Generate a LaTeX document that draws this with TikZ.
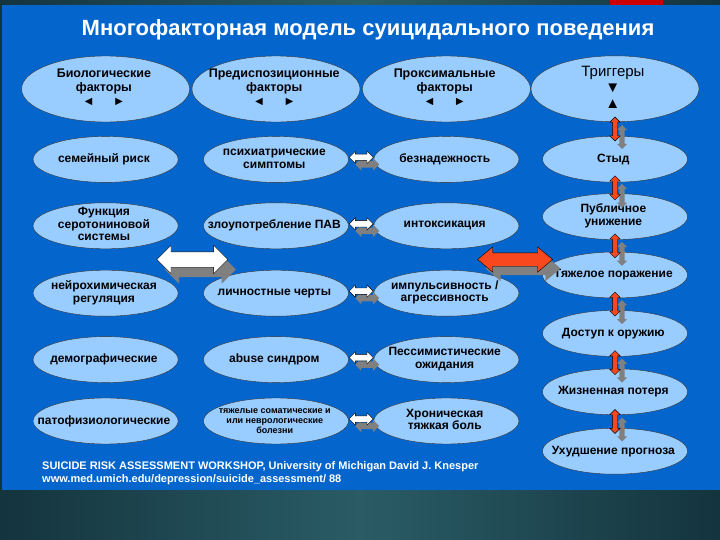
\documentclass[tikz,border=0pt]{standalone}
\usepackage{fontspec}
\setmainfont{Liberation Sans}
\usetikzlibrary{matrix,calc,shapes.geometric,shapes.arrows,shadows}

\newcommand{\cellstack}[1]{\begin{tabular}{@{}c@{}}#1\end{tabular}}

\definecolor{panelblue}{RGB}{4,102,204}
\definecolor{cellblue}{RGB}{153,204,255}
\definecolor{darkteal}{RGB}{20,52,62}
\definecolor{midteal}{RGB}{42,92,102}
\definecolor{arrowred}{RGB}{250,72,30}
\definecolor{shadowgray}{RGB}{128,128,128}

\tikzset{
  cell/.style={ellipse, draw=black!80, fill=cellblue, anchor=center, align=center,
    inner xsep=-45pt, inner ysep=-14pt, minimum width=145pt, minimum height=46pt,
    font=\bfseries\fontsize{12}{12.5}\selectfont},
  head/.style={cell, minimum width=168pt, minimum height=66pt,
    font=\bfseries\fontsize{12.5}{14}\selectfont},
  fat/.style={double arrow, draw=black, double arrow tip angle=90},
  smallarrow/.style={fat, fill=white, inner sep=3pt, minimum height=24pt,
    minimum width=12pt, double arrow head extend=3pt,
    drop shadow={shadow xshift=6pt, shadow yshift=-7pt, fill=shadowgray, opacity=1}},
  bigwhite/.style={fat, fill=white, inner sep=7.5pt, minimum height=71pt,
    minimum width=28pt, double arrow head extend=6.5pt,
    drop shadow={shadow xshift=8pt, shadow yshift=-10pt, fill=shadowgray, opacity=1}},
  bigred/.style={fat, fill=arrowred, inner sep=6.5pt, minimum height=75pt,
    minimum width=25pt, double arrow head extend=6pt, double arrow tip angle=80,
    drop shadow={shadow xshift=8pt, shadow yshift=-9pt, fill=shadowgray, opacity=1}},
  vred/.style={fat, fill=arrowred, shape border rotate=90, inner sep=2.5pt,
    minimum height=24pt, minimum width=10pt, double arrow head extend=2.5pt,
    drop shadow={shadow xshift=7pt, shadow yshift=-8pt, fill=shadowgray, opacity=1}},
  title/.style={text=white, font=\bfseries\fontsize{22}{24}\selectfont},
  source/.style={text=white, align=left, anchor=north west, inner sep=0pt,
    font=\bfseries\fontsize{11}{13}\selectfont}
}

\begin{document}
\begin{tikzpicture}[x=1pt,y=-1pt]
  \useasboundingbox (0,0) rectangle (720,540);
  \fill[darkteal] (0,0) rectangle (720,540);
  \shade[left color=darkteal, right color=darkteal, middle color=midteal] (0,490) rectangle (720,540);
  \shade[left color=darkteal, right color=darkteal, middle color=midteal] (0,0) rectangle (720,5);
  \fill[red!80!black] (610,0) rectangle (663,5);
  \fill[panelblue] (2,5) rectangle (720,490);

  \node[title] (head) at (368,30) {Многофакторная модель суицидального поведения};

  \matrix (m) [matrix of nodes, nodes={cell}, row 1/.style={nodes={head}},
               column sep=2pt, row sep=0pt] at (276,250)
  {
     \cellstack{Биологические\\факторы\\◄\hspace{18pt}►} &
     \cellstack{Предиспозиционные\\факторы\\◄\hspace{18pt}►} &
     \cellstack{Проксимальные\\факторы\\◄\hspace{18pt}►} \\[14pt]
     семейный риск & \cellstack{психиатрические\\симптомы} & безнадежность \\[20pt]
     \cellstack{Функция\\серотониновой\\системы} & злоупотребление ПАВ & интоксикация \\[21pt]
     \cellstack{нейрохимическая\\регуляция} & личностные черты & \cellstack{импульсивность /\\агрессивность} \\[20pt]
     демографические & abuse синдром & \cellstack{Пессимистические\\ожидания} \\[15pt]
     патофизиологические &
     |[font=\bfseries\fontsize{9}{10}\selectfont]| \cellstack{тяжелые соматические и\\или  неврологические\\болезни} &
     \cellstack{Хроническая\\тяжкая боль} \\
  };

  \matrix (t) [matrix of nodes, nodes={cell}, row 1/.style={nodes={head}},
               row sep=0pt] at (615,265)
  {
     |[font=\fontsize{15}{16}\selectfont]| \cellstack{Триггеры\\▼\\▲} \\[14pt]
     Стыд \\[11pt]
     \cellstack{Публичное\\унижение} \\[12pt]
     Тяжелое поражение \\[12pt]
     Доступ к оружию \\[12pt]
     Жизненная потеря \\[13pt]
     Ухудшение прогноза \\
  };

  \node[bigwhite] (bw) at ($(m-3-1.east)!0.5!(m-4-1.east)+(14,0)$) {};
  \node[bigred]   (br) at ($(m-3-3.east)!0.5!(m-4-3.east)+(-4,0)$) {};

  \node[smallarrow] (s2) at ($(m-2-2.east)!0.5!(m-2-3.west)+(0,-2)$) {};
  \node[smallarrow] (s3) at ($(m-3-2.east)!0.5!(m-3-3.west)+(0,-2)$) {};
  \node[smallarrow] (s4) at ($(m-4-2.east)!0.5!(m-4-3.west)+(0,-2)$) {};
  \node[smallarrow] (s5) at ($(m-5-2.east)!0.5!(m-5-3.west)+(0,-2)$) {};
  \node[smallarrow] (s6) at ($(m-6-2.east)!0.5!(m-6-3.west)+(0,-2)$) {};

  \node[vred] (v1) at ($(t-1-1.south)!0.5!(t-2-1.north)$) {};
  \node[vred] (v2) at ($(t-2-1.south)!0.5!(t-3-1.north)$) {};
  \node[vred] (v3) at ($(t-3-1.south)!0.5!(t-4-1.north)$) {};
  \node[vred] (v4) at ($(t-4-1.south)!0.5!(t-5-1.north)$) {};
  \node[vred] (v5) at ($(t-5-1.south)!0.5!(t-6-1.north)$) {};
  \node[vred] (v6) at ($(t-6-1.south)!0.5!(t-7-1.north)$) {};

  \node[source] (src) at (42,461)
    {SUICIDE RISK ASSESSMENT WORKSHOP, University of Michigan David J. Knesper\\
     www.med.umich.edu/depression/suicide\_assessment/ 88};
\end{tikzpicture}
\end{document}
